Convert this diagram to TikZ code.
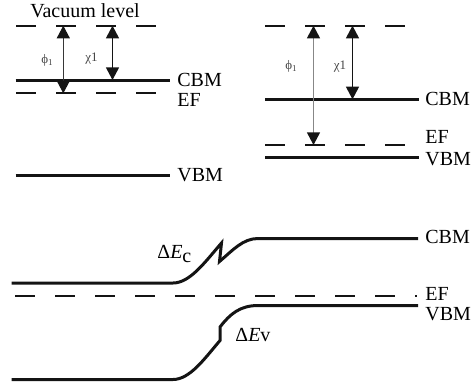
\documentclass[tikz,border=0pt]{standalone}
\usepackage{fontspec}
\setmainfont{Liberation Serif}
\usepackage{tikz}
\usetikzlibrary{arrows.meta}
\definecolor{BandBlack}{RGB}{20,20,20}
\definecolor{ShaftGray}{RGB}{135,135,135}
\definecolor{LabelGray}{RGB}{70,70,70}

\begin{document}
\begin{tikzpicture}[x=0.5pt, y=-0.5pt,
    band/.style={BandBlack, line width=1.5pt},
    level/.style={BandBlack, line width=1.1pt, dash pattern=on 10pt off 10pt},
    gap/.style={line width=0.6pt,
      {Triangle[width=6.5pt,length=6.3pt,color=BandBlack]}-{Triangle[width=6.5pt,length=6.3pt,color=BandBlack]}},
    tag/.style={font=\fontsize{10}{12}\selectfont, inner sep=0pt, anchor=west},
    sym/.style={font=\fontsize{6.5}{7.5}\selectfont, text=LabelGray, inner sep=0pt}]
        \useasboundingbox (0,0) rectangle (471,387);
        % Left panel: levels
        \draw[level] (16,25.7) -- (156,25.7);
        \draw[band] (15.7,80) -- (170,80);
        \draw[level] (16,93.3) -- (156,93.3);
        \draw[band] (15.7,175) -- (170,175);
        \node[font=\fontsize{10}{12}\selectfont, inner sep=0pt] (vac) at (85,11) {Vacuum level};
        \node[tag] (cbmL) at (177,79.5) {CBM};
        \node[tag] (efL) at (177,99.7) {EF};
        \node[tag] (vbmL) at (177,175) {VBM};
        % Left panel: gaps
        \coordinate (phiLtop) at (63.3,25.7);
        \coordinate (phiLbot) at (63.3,93.3);
        \coordinate (chiLtop) at (112.5,25.7);
        \coordinate (chiLbot) at (112.5,80);
        \draw[gap, BandBlack!85] (phiLtop) -- (phiLbot);
        \draw[gap, BandBlack] (chiLtop) -- (chiLbot);
        \node[sym] (phiL) at (47.5,60) {ϕ\textsubscript{1}};
        \node[sym] (chiL) at (91.5,59) {χ1};
        % Right panel: levels
        \draw[level] (265,25.7) -- (406,25.7);
        \draw[band] (265,99.3) -- (419,99.3);
        \draw[level] (265,145) -- (406,145);
        \draw[band] (265,157) -- (419,157);
        \node[tag] (cbmR) at (425,99) {CBM};
        \node[tag] (efR) at (425,136.7) {EF};
        \node[tag] (vbmR) at (425,159) {VBM};
        % Right panel: gaps
        \coordinate (phiRtop) at (313.5,25.7);
        \coordinate (phiRbot) at (313.5,145);
        \coordinate (chiRtop) at (352.5,25.7);
        \coordinate (chiRbot) at (352.5,99.3);
        \draw[gap, ShaftGray] (phiRtop) -- (phiRbot);
        \draw[gap, BandBlack] (chiRtop) -- (chiRbot);
        \node[sym] (phiR) at (291.5,66.7) {ϕ\textsubscript{1}};
        \node[sym] (chiR) at (340,66.7) {χ1};
        % Junction
        \draw[band, line join=miter] (11.7,283) -- (173,283)
              .. controls (190,283) and (205,262) .. (221.5,243) -- (219.5,261.5)
              .. controls (233,250) and (243,238.5) .. (258,238.5) -- (418,238.5);
        \draw[level] (15,295.7) -- (417,295.7);
        \draw[band, line join=miter] (11.7,379.5) -- (173,379.5)
              .. controls (190,379.5) and (205,358) .. (220,340.5) -- (220,327)
              .. controls (230,314) and (240,305.5) .. (258,305.5) -- (418,305.5);
        \node[tag] (cbmJ) at (425,236.7) {CBM};
        \node[tag] (efJ) at (425,294) {EF};
        \node[tag] (vbmJ) at (425,314) {VBM};
        \node[font=\fontsize{10}{12}\selectfont, inner sep=0pt, anchor=base west] (dEc) at (157,258)
              {Δ\textit{E}\raisebox{-0.5ex}{c}};
        \node[font=\fontsize{10}{12}\selectfont, inner sep=0pt, anchor=base west] (dEv) at (235,341.7)
              {Δ\textit{E}v};
\end{tikzpicture}
\end{document}
